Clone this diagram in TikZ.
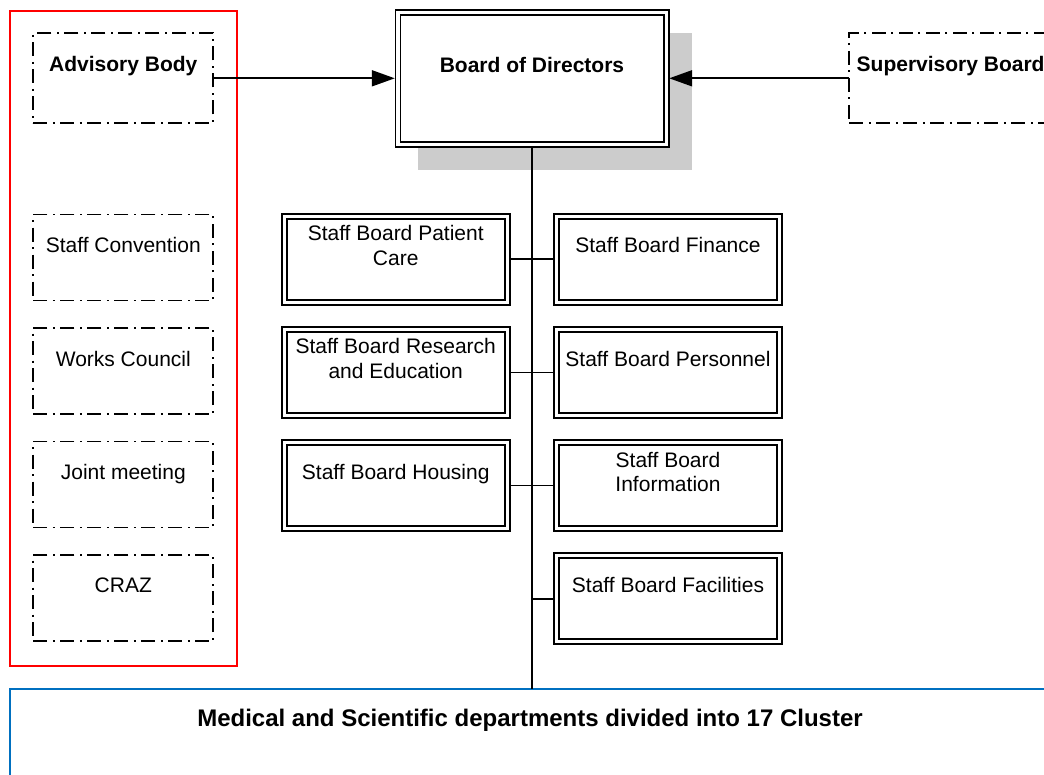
\documentclass[tikz,border=0pt]{standalone}
\usepackage{fontspec}
\setmainfont{Liberation Sans}
\usetikzlibrary{arrows.meta}
\definecolor{frameRed}{RGB}{255,0,0}
\definecolor{frameBlue}{RGB}{0,112,192}
\definecolor{shadowGray}{RGB}{204,204,204}
\begin{document}
\begin{tikzpicture}[x=1pt,y=-1pt,
  every node/.style={inner sep=0pt, outer sep=0pt},
  lbl/.style={font=\fontsize{21}{24.2}\selectfont, align=center, text depth=0pt},
  boldlbl/.style={lbl, font=\fontsize{21}{24.2}\selectfont\bfseries},
  dbox/.style={draw, double, double distance=3.4pt, line width=1.6pt, fill=white,
               minimum width=223pt, minimum height=86pt},
  ddbox/.style={draw, line width=1.8pt, fill=white,
                dash pattern=on 14pt off 5.5pt on 2pt off 5.5pt,
                minimum width=180pt, minimum height=86pt},
  conn/.style={draw, line width=1.8pt},
  spine/.style={draw, line width=2.2pt},
  arr/.style={draw, line width=1.8pt, -{Triangle[length=23pt,width=16pt]}},
  frame/.style={draw, line width=1.8pt},
  title/.style={font=\fontsize{24}{28}\selectfont\bfseries, text depth=0pt}
]
\useasboundingbox (0,0) rectangle (1044,774);
\clip (0,0) rectangle (1044,774);

% advisory group frame
\node[frame, draw=frameRed, minimum width=226.7pt, minimum height=655pt] (advgroup) at (123.35,338.5) {};

% shadow behind the board
\fill[shadowGray] (418,33) rectangle (692,170);

% top row
\node[dbox, minimum width=268.4pt, minimum height=132.2pt,
      label={[boldlbl,yshift=14pt]center:Board of Directors}] (board) at (532,78.6) {};
\node[ddbox, minimum height=90pt,
      label={[boldlbl,yshift=14pt]center:Advisory Body}] (adv) at (123.3,78.3) {};
\node[ddbox, minimum width=202.7pt, minimum height=90pt,
      label={[boldlbl,yshift=14pt]center:Supervisory Board}] (sup) at (950.6,78.3) {};

% participation bodies
\node[ddbox, label={[lbl,yshift=12.5pt]center:Staff Convention}] (conv) at (123.3,257.5) {};
\node[ddbox, label={[lbl,yshift=12.5pt]center:Works Council}] (works) at (123.3,371) {};
\node[ddbox, label={[lbl,yshift=12.5pt]center:Joint meeting}] (joint) at (123.3,484.5) {};
\node[ddbox, label={[lbl,yshift=12.5pt]center:CRAZ}] (craz) at (123.3,598) {};

% departments frame
\node[frame, draw=frameBlue, minimum width=1050pt, minimum height=111pt] (med) at (535,744.65) {};
\node[title] (medtitle) at (530,718) {Medical and Scientific departments divided into 17 Cluster};

% staff boards
\node[dbox, label={[lbl,yshift=14pt]center:{Staff Board Patient\\Care}}] (care) at (395.7,259.3) {};
\node[dbox, label={[lbl,yshift=14pt]center:{Staff Board Research\\and Education}}] (research) at (395.7,372.4) {};
\node[dbox, label={[lbl,yshift=14pt]center:Staff Board Housing}] (housing) at (395.7,485.5) {};
\node[dbox, label={[lbl,yshift=14pt]center:Staff Board Finance}] (finance) at (668,259.3) {};
\node[dbox, label={[lbl,yshift=14pt]center:Staff Board Personnel}] (personnel) at (668,372.4) {};
\node[dbox, label={[lbl,yshift=14pt]center:{Staff Board\\Information}}] (information) at (668,485.5) {};
\node[dbox, label={[lbl,yshift=14pt]center:Staff Board Facilities}] (facilities) at (668,598.6) {};

% connectors
\coordinate (spinebot) at (board.south |- med.north);
\draw[spine, shorten <=3pt] (board.south) -- (spinebot);
\draw[conn, shorten <=3pt, shorten >=3pt] (care.east) -- (finance.west);
\draw[conn, shorten <=3pt, shorten >=3pt] (research.east) -- (personnel.west);
\draw[conn, shorten <=3pt, shorten >=3pt] (housing.east) -- (information.west);
\coordinate (facbranch) at (facilities.west -| board.south);
\draw[conn, shorten >=3pt] (facbranch) -- (facilities.west);

\draw[arr, shorten >=3pt] (adv.east) -- (adv.east -| board.west);
\draw[arr, shorten >=3pt] (sup.west) -- (sup.west -| board.east);
\end{tikzpicture}
\end{document}
